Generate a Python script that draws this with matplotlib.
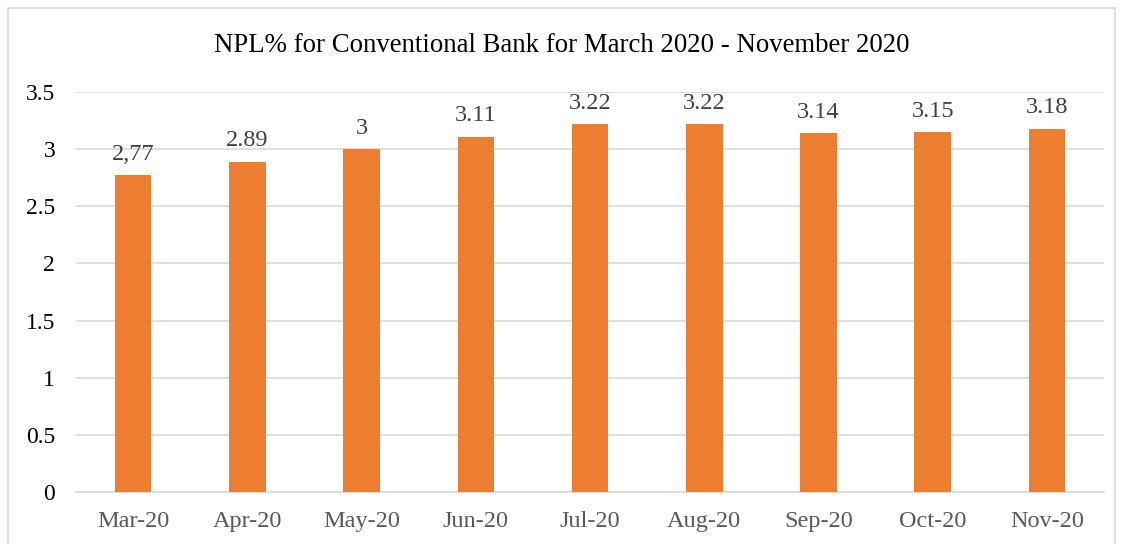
import matplotlib.pyplot as plt
from matplotlib.patches import Rectangle

plt.rcParams["font.family"] = ["Liberation Serif", "DejaVu Serif"]

months = ["Mar-20", "Apr-20", "May-20", "Jun-20", "Jul-20", "Aug-20", "Sep-20", "Oct-20", "Nov-20"]
npl = [2.77, 2.89, 3.00, 3.11, 3.22, 3.22, 3.14, 3.15, 3.18]
value_labels = ["2,77", "2.89", "3", "3.11", "3.22", "3.22", "3.14", "3.15", "3.18"]
y_ticks = [0, 0.5, 1, 1.5, 2, 2.5, 3, 3.5]
y_tick_labels = ["0", "0.5", "1", "1.5", "2", "2.5", "3", "3.5"]

fig = plt.figure(figsize=(11.23, 5.44), dpi=100)
ax = fig.add_axes([0.0677, 0.0956, 0.9154, 0.7353])

# outer chart frame
fig.patches.append(Rectangle((8 / 1123, -0.01), 1 - 16 / 1123, 1 - 8 / 544 + 0.01,
                             transform=fig.transFigure, fill=False,
                             edgecolor="#d9d9d9", linewidth=1.2))

x = range(len(months))
bars = ax.bar(x, npl, width=0.32, color="#ED7D31", zorder=3)

for b, lab in zip(bars, value_labels):
    ax.text(b.get_x() + b.get_width() / 2, b.get_height() + 0.09, lab,
            ha="center", va="bottom", fontsize=17.5, color="#404040")

ax.set_xlim(-0.5, len(months) - 0.5)
ax.set_ylim(0, 3.5)
ax.set_yticks(y_ticks)
ax.set_yticklabels(y_tick_labels, fontsize=17, color="#000000")
ax.set_xticks(list(x))
ax.set_xticklabels(months, fontsize=17.5, color="#595959")
ax.tick_params(axis="both", length=0)
ax.tick_params(axis="y", pad=15)
ax.tick_params(axis="x", pad=14)

ax.grid(axis="y", color="#d9d9d9", linewidth=1.2, zorder=0)
for side in ["top", "right", "left"]:
    ax.spines[side].set_visible(False)
ax.spines["bottom"].set_color("#d9d9d9")
ax.spines["bottom"].set_linewidth(1.2)

fig.text(0.5, 1 - 45 / 544, "NPL% for Conventional Bank for March 2020 - November 2020",
         ha="center", va="center", fontsize=19.3, color="#000000")

fig.savefig("out.png", dpi=100)
